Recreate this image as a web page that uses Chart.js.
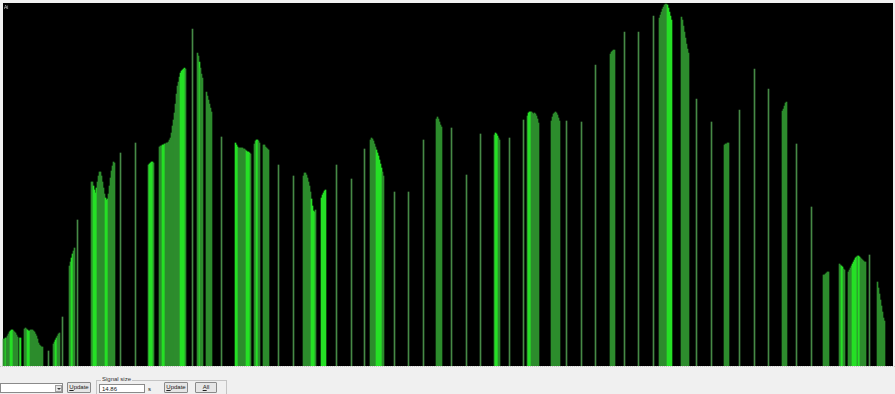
<!DOCTYPE html>
<html>
<head>
<meta charset="utf-8">
<script src="https://cdn.jsdelivr.net/npm/chart.js@4/dist/chart.umd.min.js"></script>
<style>
  body { margin: 0; width: 895px; height: 394px; background: #f0f0f0; position: relative; overflow: hidden;
         font-family: "Liberation Sans", "DejaVu Sans", sans-serif; }
  #scope { position: absolute; left: 3px; top: 3px; width: 890px; height: 363px; background: #000; }
  #trace { position: absolute; left: 0; top: 3px; }
  #tag { position: absolute; left: 4px; top: 4px; font-size: 5px; color: #cfcfcf; }
  #rule { position: absolute; left: 0; top: 366px; width: 895px; border-top: 1px dotted #c9c9c9; }
  .ctl { position: absolute; box-sizing: border-box; font-size: 6px; line-height: 9px; color: #202020; }
  .btn { background: #e6e6e6; border: 1px solid #8a8a8a; text-align: center; border-radius: 1px; }
  .box { background: #fff; border: 1px solid #8a8a8a; padding-left: 2px; }
  .u { text-decoration: underline; }
</style>
</head>
<body>
<div id="scope"></div>
<canvas id="trace" width="895" height="363"></canvas>
<div id="tag">Ai</div>
<div id="rule"></div>

<div class="ctl box" style="left:0;top:383px;width:63px;height:10px;"></div>
<div class="ctl" style="left:55px;top:385px;width:7px;height:7px;background:#e6e6e6;border:1px solid #a0a0a0;"></div>
<div class="ctl" style="left:57px;top:388px;width:0;height:0;border-left:2px solid transparent;border-right:2px solid transparent;border-top:2px solid #444;"></div>
<div class="ctl btn" style="left:67px;top:382px;width:24px;height:11px;"><span class="u">U</span>pdate</div>

<div class="ctl" style="left:96px;top:380px;width:131px;height:20px;border:1px solid #c4c4c4;"></div>
<div class="ctl" style="left:101px;top:375px;padding:0 1px;background:#f0f0f0;color:#333;">Signal size</div>
<div class="ctl box" style="left:99px;top:384px;width:46px;height:9px;line-height:8px;">14.86</div>
<div class="ctl" style="left:148px;top:385px;">s</div>
<div class="ctl btn" style="left:164px;top:382px;width:24px;height:11px;"><span class="u">U</span>pdate</div>
<div class="ctl btn" style="left:195px;top:382px;width:22px;height:11px;"><span class="u">A</span>ll</div>

<script>
// wide bursts: first column and the level of each column in it
const burstStart = [3, 19, 24, 53, 69, 91, 148, 159, 197, 206, 235, 254, 263, 303, 321, 370,
  436, 494, 527, 551, 610, 659, 681, 724, 782, 823, 839, 848, 877];
const burstLevels = [
  [27, 27, 28, 28, 30, 32, 34, 35, 36, 36, 35, 34, 33, 31, 29],
  [28, 28],
  [37, 38, 37, 36, 35, 35, 36, 36, 36, 35, 34, 32, 30, 27, 23, 21, 20, 19, 19],
  [22, 24, 26, 28, 30, 32, 33],
  [100, 104, 108, 112, 115, 118],
  [184, 184, 180, 176, 173, 178, 184, 190, 194, 194, 190, 184, 178, 172, 168, 166, 167, 172,
    180, 188, 195, 200, 204, 203],
  [201, 202, 203, 204, 204, 203],
  [219, 220, 220, 221, 221, 222, 222, 223, 223, 224, 226, 228, 233, 240, 246, 253, 262, 272,
    280, 284, 289, 293, 295, 296, 297, 298, 297],
  [313, 310, 304, 298, 292, 288],
  [274, 270, 266, 262, 258, 254],
  [223, 221, 219, 218, 218, 218, 218, 218, 217, 217, 216, 215, 214, 214, 213, 212],
  [222, 225, 226, 226, 225, 223],
  [221, 221, 219, 218, 217, 216],
  [190, 193, 193, 191, 188, 184, 180, 174, 167, 160, 155, 154, 156],
  [168, 171, 173, 175, 176],
  [226, 228, 227, 225, 222, 219, 216, 213, 210, 206, 202, 198, 194, 190],
  [247, 249, 247, 244, 241, 239],
  [231, 233, 232, 230, 228, 226],
  [250, 253, 254, 254, 254, 253, 252, 253, 252, 250, 247, 243],
  [245, 249, 252, 253, 254, 253, 251, 248, 245],
  [312, 314, 315, 316, 316],
  [348, 351, 354, 357, 359, 361, 362, 362, 361, 358, 354, 350, 346],
  [349, 346, 340, 334, 328, 322, 317, 313],
  [221, 222, 222, 223, 223],
  [255, 257, 260, 263, 264],
  [91, 91, 92, 93, 94, 94],
  [102, 101, 100, 99, 97, 96],
  [94, 96, 98, 100, 102, 104, 106, 108, 109, 110, 110, 109, 108, 107, 106, 105, 104, 104],
  [84, 78, 72, 66, 60, 54, 48, 45],
];
// columns inside the bursts that show the strong trace
const brightCols = [5, 10, 11, 12, 20, 27, 28, 29, 55, 56, 71, 72, 93, 94, 95, 96, 105, 106, 107,
  149, 150, 151, 152, 162, 163, 164, 180, 181, 182, 183, 184, 199, 235, 236, 237, 246, 247, 248, 249,
  256, 257, 311, 312, 313, 314, 321, 322, 323, 324, 325, 376, 377, 378, 379, 380, 381,
  495, 496, 497, 528, 529, 530, 667, 668, 669, 670, 671, 841, 842, 852, 853, 854, 855, 856, 858, 859];
// single-column spikes
const spikeCols = [48, 62, 77, 120, 135, 192, 221, 278, 293, 336, 351, 364, 394, 408, 423, 451, 466,
  480, 509, 523, 566, 581, 595, 624, 638, 653, 696, 711, 739, 754, 768, 796, 811, 869];
const spikeLevels = [15, 49, 146, 213, 223, 337, 229, 201, 190, 201, 187, 217, 174, 174, 226, 238, 191,
  232, 228, 246, 245, 244, 301, 334, 334, 350, 267, 244, 256, 297, 277, 222, 159, 111];

const burstPoints = [];
burstStart.forEach((start, i) => {
  burstLevels[i].forEach((level, j) => burstPoints.push({ x: start + j, y: level }));
});
const spikePoints = spikeCols.map((col, i) => ({ x: col, y: spikeLevels[i] }));
const bright = new Set(brightCols);

new Chart(document.getElementById('trace'), {
  type: 'bar',
  data: {
    datasets: [
      {
        label: 'bursts',
        data: burstPoints,
        backgroundColor: (ctx) => (ctx.raw && bright.has(ctx.raw.x) ? '#26e026' : '#2d8c2d'),
      },
      {
        label: 'spikes',
        data: spikePoints,
        backgroundColor: '#468a46',
      },
    ],
  },
  options: {
    responsive: false,
    animation: false,
    devicePixelRatio: 1,
    layout: { padding: 0 },
    datasets: {
      bar: { grouped: false, barThickness: 1, borderWidth: 0 },
    },
    scales: {
      x: { type: 'linear', offset: false, min: -0.5, max: 894.5, display: false },
      y: { min: 0, max: 363, display: false },
    },
    plugins: {
      legend: { display: false },
      tooltip: { enabled: false },
    },
  },
});
</script>
</body>
</html>
